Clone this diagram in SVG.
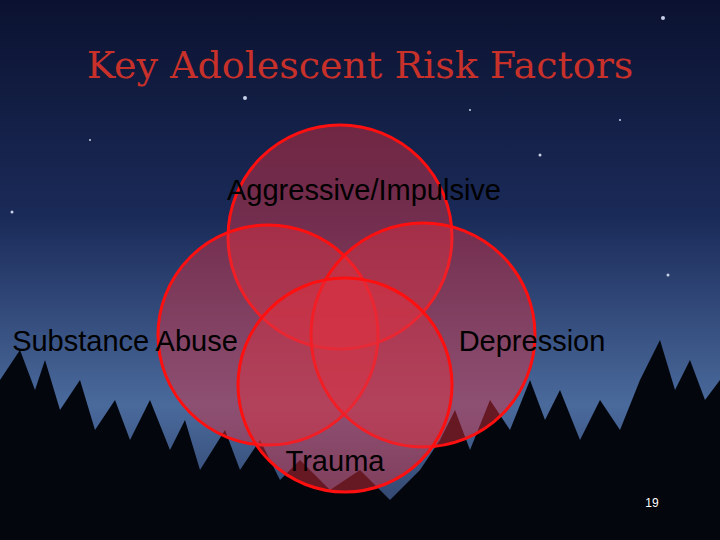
<svg xmlns="http://www.w3.org/2000/svg" width="720" height="540" viewBox="0 0 720 540">
<defs>
<linearGradient id="sky" x1="0" y1="0" x2="0" y2="1">
<stop offset="0" stop-color="#0b1230"/>
<stop offset="0.4" stop-color="#1a2a58"/>
<stop offset="0.75" stop-color="#4a6a9c"/>
<stop offset="1" stop-color="#2a3a60"/>
</linearGradient>
<style>
.c{fill:#e03040;fill-opacity:0.45;stroke:#ff1010;stroke-width:3}
.t{font-family:"Liberation Sans",Arial,sans-serif;font-size:29px;fill:#000}
.tree{fill:#03060c}
.star{fill:#c8d0e8}
</style>
</defs>
<rect width="720" height="540" fill="url(#sky)"/>
<g class="star">
<circle cx="663" cy="18" r="2"/><circle cx="245" cy="98" r="2"/><circle cx="540" cy="155" r="1.5"/>
<circle cx="12" cy="212" r="1.5"/><circle cx="668" cy="275" r="1.5"/><circle cx="620" cy="120" r="1"/>
<circle cx="90" cy="140" r="1"/><circle cx="470" cy="110" r="1"/>
</g>
<g class="tree">
<path d="M0,540 L0,380 L20,350 L35,390 L45,360 L60,410 L80,380 L95,430 L115,400 L130,440 L150,400 L170,450 L185,420 L200,470 L225,430 L240,470 L260,440 L280,480 L300,460 L330,490 L360,470 L390,500 L420,470 L440,440 L455,410 L470,450 L490,400 L510,430 L530,380 L545,420 L560,390 L580,440 L600,400 L620,430 L640,380 L660,340 L675,390 L690,360 L705,400 L720,380 L720,540 Z"/>
</g>
<text x="360" y="78" text-anchor="middle" font-family="'DejaVu Serif',serif" font-size="38" fill="#c8302a">Key Adolescent Risk Factors</text>
<g id="aggressive"><circle class="c" cx="340" cy="237" r="112"/></g>
<g id="substance"><circle class="c" cx="268" cy="335" r="110"/></g>
<g id="depression"><circle class="c" cx="423" cy="335" r="112"/></g>
<g id="trauma"><circle class="c" cx="345" cy="385" r="107"/></g>
<g id="labels">
<text class="t" x="364" y="200" text-anchor="middle">Aggressive/Impulsive</text>
<text class="t" x="125" y="351" text-anchor="middle">Substance Abuse</text>
<text class="t" x="532" y="351" text-anchor="middle">Depression</text>
<text class="t" x="335" y="471" text-anchor="middle">Trauma</text>
<text x="652" y="507" text-anchor="middle" font-family="'Liberation Sans',sans-serif" font-size="12" fill="#fff">19</text>
</g>
</svg>
